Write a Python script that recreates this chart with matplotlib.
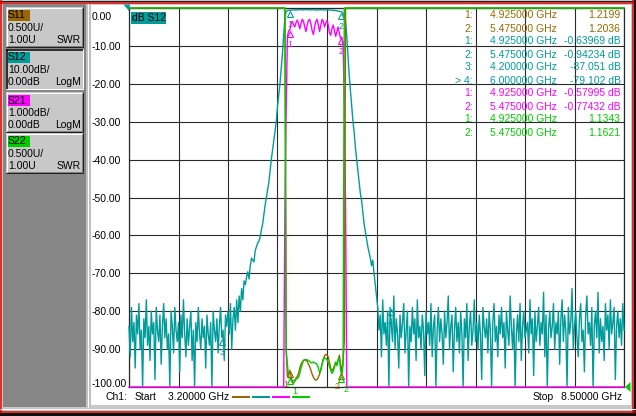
import numpy as np
import matplotlib
matplotlib.use("Agg")
import matplotlib.pyplot as plt
from matplotlib.patches import Rectangle, Polygon
from matplotlib.lines import Line2D
from matplotlib.transforms import ScaledTranslation, offset_copy

plt.rcParams['font.family'] = ['Liberation Sans', 'DejaVu Sans']

# ---------------- data ----------------
START_GHZ = 3.2
STOP_GHZ = 8.5

# S12 (dB), sweep points
s12_left = [-84, -92, -79, -88, -83, -95, -81, -86, -78, -90,
            -85, -100, -82, -87, -77, -89, -84, -93, -80, -86,
            -83, -98, -79, -85, -88, -81, -94, -84, -78, -87,
            -82, -90, -86, -100, -80, -84, -91, -79, -85, -88,
            -83, -96, -81, -87, -77, -86, -92, -82, -89, -84,
            -80, -93, -85, -100, -83, -88, -79, -86, -90, -82,
            -87, -84, -95, -81, -86, -89, -83, -100, -80, -85,
            -88, -82, -91, -84, -79, -87, -85, -93, -81, -84,
            -80, -86, -78, -90, -82, -79, -85, -77, -83, -76,
            -80, -74, -77, -72]
s12_rise = [-73, -71, -69.6, -71.5, -68, -66, -66.5, -67, -64, -63,
            -62, -61.5, -60.4, -58.5, -57, -54.5, -52, -50, -48, -46,
            -43, -40, -37.5, -35, -32.5, -30, -26, -23, -20, -16,
            -12, -7, -2.5]
s12_pass = [-0.9, -0.7, -0.6, -0.64, -0.55, -0.5, -0.45, -0.5, -0.55, -0.5,
            -0.45, -0.42, -0.45, -0.5, -0.48, -0.44, -0.42, -0.46, -0.5, -0.52,
            -0.48, -0.45, -0.43, -0.46, -0.5, -0.55, -0.5, -0.47, -0.45, -0.48,
            -0.52, -0.5, -0.46, -0.44, -0.47, -0.52, -0.56, -0.6, -0.58, -0.62,
            -0.68, -0.75, -0.8, -0.88, -0.94, -1.0, -1.4, -2.2]
s12_fall = [-3.5, -7.6, -13, -18, -22, -26, -30, -33, -37, -40,
            -43, -46, -49, -51, -54, -57, -59, -61, -63, -64.5,
            -66, -68, -66.5, -70, -73, -76]
s12_right = [-79, -85, -81, -92, -77, -86, -83, -89, -80, -100,
             -79, -84, -88, -76, -90, -82, -86, -95, -81, -87,
             -83, -78, -91, -85, -80, -100, -84, -88, -79, -86,
             -82, -93, -77, -87, -84, -90, -81, -85, -97, -80,
             -86, -83, -89, -78, -92, -84, -81, -100, -85, -79,
             -88, -82, -86, -94, -80, -87, -83, -76, -90, -84,
             -81, -96, -85, -79, -88, -83, -91, -80, -86, -100,
             -82, -87, -78, -93, -84, -80, -89, -85, -77, -88,
             -83, -90, -81, -86, -98, -79, -84, -87, -82, -91,
             -80, -85, -100, -83, -78, -88, -84, -92, -81, -86,
             -79, -87, -83, -95, -80, -85, -89, -76, -84, -90,
             -82, -100, -86, -81, -88, -78, -93, -84, -80, -87,
             -85, -83, -91, -77, -86, -82, -97, -80, -88, -84,
             -79, -89, -83, -86, -75, -92, -81, -100, -85, -80,
             -87, -84, -78, -90, -83, -86, -80, -94, -82, -77,
             -88, -81, -85, -100, -79, -86, -83, -74, -90, -84,
             -80, -87, -92, -82, -78, -88, -85, -96, -81, -76,
             -86, -83, -89, -79, -100, -84, -80, -87, -75, -91,
             -82, -88, -84, -93, -78, -85, -81, -90, -77, -86,
             -83, -79, -98, -84, -80, -87, -82, -89, -78, -85]
s12_db = s12_left + s12_rise + s12_pass + s12_fall + s12_right

# S21 (dB) around the pass band; off-scale (-80 dB) outside
S21_FIRST = 124
s21_band = [-10, -10, -5.3, -2.7, -0.75, -0.6, -0.58, -0.4, -0.35, -0.45,
            -0.5, -0.38, -0.32, -0.42, -0.55, -0.4, -0.3, -0.35, -0.5, -0.62,
            -0.45, -0.33, -0.3, -0.42, -0.6, -0.7, -0.5, -0.35, -0.3, -0.45,
            -0.62, -0.45, -0.3, -0.35, -0.5, -0.4, -0.33, -0.45, -0.65, -0.72,
            -0.55, -0.45, -0.6, -0.75, -0.62, -0.5, -0.68, -0.8, -0.77, -1.0,
            -2.5, -5.3, -10, -10]
s21_out = -80.0

# S11 / S22 (SWR) around the pass band; off-scale (30) outside
SWR_FIRST = 126
s11_band = [30, 1.5, 1.14, 1.18, 1.22, 1.14, 1.06, 1.05, 1.08, 1.12,
            1.14, 1.18, 1.25, 1.30, 1.33, 1.35, 1.36, 1.35, 1.34, 1.30,
            1.27, 1.22, 1.17, 1.13, 1.10, 1.09, 1.10, 1.13, 1.17, 1.23,
            1.30, 1.37, 1.41, 1.43, 1.42, 1.40, 1.32, 1.25, 1.21, 1.24,
            1.28, 1.33, 1.30, 1.36, 1.42, 1.30, 1.20, 1.35, 1.6, 30]
s22_band = [30, 1.48, 1.30, 1.12, 1.13, 1.09, 1.08, 1.09, 1.08, 1.10,
            1.11, 1.13, 1.18, 1.25, 1.30, 1.35, 1.36, 1.36, 1.36, 1.35,
            1.34, 1.32, 1.32, 1.33, 1.32, 1.31, 1.30, 1.25, 1.19, 1.22,
            1.30, 1.36, 1.38, 1.38, 1.36, 1.32, 1.27, 1.22, 1.18, 1.20,
            1.26, 1.32, 1.28, 1.36, 1.38, 1.22, 1.15, 1.30, 30, 30]
swr_out = 30.0

# markers
s11_mk_num = [1, 2]
s11_mk_f = [4.925, 5.475]
s11_mk_v = [1.2199, 1.2036]
s12_mk_num = [1, 2, 3, 4]
s12_mk_f = [4.925, 5.475, 4.2, 6.0]
s12_mk_v = [-0.63969, -0.94234, -87.051, -79.102]
s12_active = 4
s21_mk_num = [1, 2]
s21_mk_f = [4.925, 5.475]
s21_mk_v = [-0.57995, -0.77432]
s22_mk_num = [1, 2]
s22_mk_f = [4.925, 5.475]
s22_mk_v = [1.1343, 1.1621]

y_ticks_db = [0, -10, -20, -30, -40, -50, -60, -70, -80, -90, -100]

# ---------------- style ----------------
BROWN = '#9a6600'
TEAL = '#009c9c'
MAGENTA = '#ff00ff'
GREEN = '#00cc00'
GRID = '#2a2a2a'
BTN = '#c8c8c8'
PANEL = '#868686'

W, H = 636, 416
fig = plt.figure(figsize=(W / 100, H / 100), dpi=100, facecolor='#c8c8c8')


def fx(x):
    return x / W


def fy(y):
    return 1 - y / H


def rect(x0, y0, x1, y1, color, z=0):
    fig.add_artist(Rectangle((fx(x0), fy(y1)), (x1 - x0) / W, (y1 - y0) / H,
                             transform=fig.transFigure, facecolor=color,
                             edgecolor='none', zorder=z))


def seg(x0, y0, x1, y1, color, lw=1.0, z=1):
    fig.add_artist(Line2D([fx(x0), fx(x1)], [fy(y0), fy(y1)], transform=fig.transFigure,
                          color=color, lw=lw * 0.72, zorder=z, solid_capstyle='butt'))


def ftext(x, y, s, ha='left', color='black', size=7.5, z=5):
    fig.text(fx(x), fy(y), s, ha=ha, va='center', color=color, fontsize=size, zorder=z)


# window background pieces
rect(3, 4, 86, 407, PANEL, z=0)
rect(86, 4, 91, 407, '#c0c0c0', z=0)
seg(88, 4, 88, 407, '#ffffff', 1, z=0.5)
rect(91, 5, 631, 405, '#ffffff', z=0)

# outer frame lines
seg(0, 0.5, 636, 0.5, '#202020', 1, z=2)
seg(0, 2.5, 636, 2.5, '#e00000', 1.5, z=2)
seg(1, 0, 1, 416, '#e00000', 1.5, z=2)
seg(632.5, 0, 632.5, 416, '#e00000', 1.5, z=2)
rect(634, 0, 636, 416, '#101010', z=2)
seg(0, 409, 636, 409, '#ffffff', 1, z=2)
seg(0, 411.5, 636, 411.5, '#e00000', 1.5, z=2)
rect(0, 413, 636, 416, '#101010', z=2)

# left channel buttons
buttons = [
    ('S11', BROWN, '0.500U/', '1.00U', 'SWR', 7, False),
    ('S12', TEAL, '10.00dB/', '0.00dB', 'LogM', 49, True),
    ('S21', MAGENTA, '1.000dB/', '0.00dB', 'LogM', 92, False),
    ('S22', GREEN, '0.500U/', '1.00U', 'SWR', 133, False),
]
for name, col, l2, l3a, l3b, top, active in buttons:
    bot = top + 40
    rect(6, top, 83, bot, BTN, z=1)
    if active:
        seg(6, top + 0.5, 83, top + 0.5, '#000000', 1.5, z=2)
        seg(6.5, top, 6.5, bot, '#000000', 1.5, z=2)
        seg(6, bot - 0.5, 83, bot - 0.5, '#ffffff', 1, z=2)
        seg(82.5, top, 82.5, bot, '#ffffff', 1, z=2)
    else:
        seg(6, top + 0.5, 83, top + 0.5, '#ffffff', 1, z=2)
        seg(6.5, top, 6.5, bot, '#ffffff', 1, z=2)
        seg(6, bot - 0.5, 83, bot - 0.5, '#202020', 1, z=2)
        seg(82.5, top, 82.5, bot, '#202020', 1, z=2)
        seg(7, bot - 1.5, 82, bot - 1.5, '#808080', 1, z=2)
        seg(81.5, top + 1, 81.5, bot - 1, '#808080', 1, z=2)
    rect(7.5, top + 2.5, 29.5, top + 14, col, z=3)
    ftext(8, top + 8.5, name, size=7.5)
    ftext(8, top + 21, l2, size=7.5)
    ftext(8, top + 33, l3a, size=7.5)
    ftext(80.5, top + 33, l3b, ha='right', size=7.5)

# ---------------- plot area ----------------
PX_L, PX_R, PX_T, PX_B = 129, 624, 8, 387
ax = fig.add_axes([fx(PX_L), fy(PX_B), (PX_R - PX_L) / W, (PX_B - PX_T) / H])
ax.set_facecolor('white')
ax.set_xlim(START_GHZ, STOP_GHZ)
ax.set_ylim(-100, 0)
ax.set_xticks(np.linspace(START_GHZ, STOP_GHZ, 11))
ax.set_xticklabels([])
ax.set_yticks(y_ticks_db, [f"{v:.2f}" for v in y_ticks_db], ha='left')
ax.tick_params(axis='both', length=0)
ax.tick_params(axis='y', pad=(PX_L - 92) * 0.72, labelsize=7.5, labelcolor='black')
ax.grid(True, color=GRID, lw=0.8)
for s in ax.spines.values():
    s.set_color(GRID)
    s.set_linewidth(0.9)
for lbl in ax.get_yticklabels():
    t = lbl.get_text()
    if t == '0.00':
        lbl.set_transform(lbl.get_transform() + ScaledTranslation(0, -7.5 / 100, fig.dpi_scale_trans))
    elif t == '-100.00':
        lbl.set_transform(lbl.get_transform() + ScaledTranslation(0, 4 / 100, fig.dpi_scale_trans))

sweep = np.linspace(START_GHZ, STOP_GHZ, len(s12_db))

ax21 = ax.twinx()
ax21.set_ylim(-10, 0)
ax21.axis('off')
axw = ax.twinx()
axw.set_ylim(1, 6)
axw.axis('off')

# S12
ax.plot(sweep, np.clip(s12_db, -100, 0), color=TEAL, lw=1.0, clip_on=False, zorder=3)

# S21
f21 = np.concatenate([[START_GHZ], sweep[S21_FIRST:S21_FIRST + len(s21_band)], [STOP_GHZ]])
v21 = np.concatenate([[s21_out], s21_band, [s21_out]])
ax21.plot(f21, np.clip(v21, -10, 0), color=MAGENTA, lw=1.0, clip_on=False, zorder=3)

# S11, S22
fsw = np.concatenate([[START_GHZ], sweep[SWR_FIRST:SWR_FIRST + len(s11_band)], [STOP_GHZ]])
v11 = np.concatenate([[swr_out], s11_band, [swr_out]])
v22 = np.concatenate([[swr_out], s22_band, [swr_out]])
axw.plot(fsw, np.clip(v11, 1, 6), color=BROWN, lw=1.0, clip_on=False, zorder=2)
axw.plot(fsw, np.clip(v22, 1, 6), color=GREEN, lw=1.0, clip_on=False, zorder=3)


def draw_markers(axis, nums, fs, vs, color, lo, hi, dx=0.0):
    tri = offset_copy(axis.transData, fig=fig, x=0, y=-4.0, units='dots')
    num = offset_copy(axis.transData, fig=fig, x=dx, y=-14.5, units='dots')
    for n, f, v in zip(nums, fs, vs):
        vv = min(max(v, lo), hi)
        axis.plot([f], [vv], marker='^', ms=5.0, mfc='none', mec=color, mew=0.8,
                  transform=tri, clip_on=False, zorder=6)
        axis.text(f, vv, str(n), transform=num, ha='center', va='center',
                  color=color, fontsize=6.5, clip_on=False, zorder=6)


draw_markers(ax, s12_mk_num, s12_mk_f, s12_mk_v, TEAL, -100, 0)
draw_markers(ax21, s21_mk_num, s21_mk_f, s21_mk_v, MAGENTA, -10, 0)
draw_markers(axw, s11_mk_num, s11_mk_f, s11_mk_v, BROWN, 1, 6, dx=-4.5)
draw_markers(axw, s22_mk_num, s22_mk_f, s22_mk_v, GREEN, 1, 6, dx=4.5)

# reference position indicators
fig.add_artist(Polygon([(fx(123.5), fy(4.5)), (fx(130), fy(4.5)), (fx(129), fy(11))],
                       closed=True, transform=fig.transFigure, facecolor=TEAL, edgecolor='none', zorder=6))
fig.add_artist(Polygon([(fx(625), fy(387)), (fx(630.5), fy(382)), (fx(630.5), fy(392))],
                       closed=True, transform=fig.transFigure, facecolor=GREEN, edgecolor='none', zorder=6))

# active trace label
rect(131, 12, 166, 23.5, TEAL, z=6)
ftext(132, 17.8, 'dB S12', size=7.5, z=7)

# marker readout table
rows = []
for n, f, v in zip(s11_mk_num, s11_mk_f, s11_mk_v):
    rows.append((f"{n}:", f, f"{v:.4f}", BROWN))
for n, f, v in zip(s12_mk_num, s12_mk_f, s12_mk_v):
    rows.append(((">" + " " if n == s12_active else "") + f"{n}:", f, f"{v:.5g} dB", TEAL))
for n, f, v in zip(s21_mk_num, s21_mk_f, s21_mk_v):
    rows.append((f"{n}:", f, f"{v:.5g} dB", MAGENTA))
for n, f, v in zip(s22_mk_num, s22_mk_f, s22_mk_v):
    rows.append((f"{n}:", f, f"{v:.4f}", GREEN))
for k, (lab, f, val, col) in enumerate(rows):
    yy = 15.5 + 13 * k
    ftext(473, yy, lab, ha='right', color=col, size=7.5, z=8)
    ftext(490, yy, f"{f:.6f} GHz", color=col, size=7.5, z=8)
    ftext(620.5, yy, val, ha='right', color=col, size=7.5, z=8)

# bottom status line
ftext(105, 397.5, 'Ch1:', size=7.5)
ftext(135, 397.5, 'Start', size=7.5)
ftext(168, 397.5, f"{START_GHZ:.5f} GHz", size=7.5)
ftext(533, 397.5, 'Stop', size=7.5)
ftext(622, 397.5, f"{STOP_GHZ:.5f} GHz", ha='right', size=7.5)
for i, col in enumerate([BROWN, TEAL, MAGENTA, GREEN]):
    x0 = 232 + 20 * i
    seg(x0, 396.5, x0 + 17.5, 396.5, col, 2, z=5)

fig.savefig('out.png', dpi=100, facecolor=fig.get_facecolor())
